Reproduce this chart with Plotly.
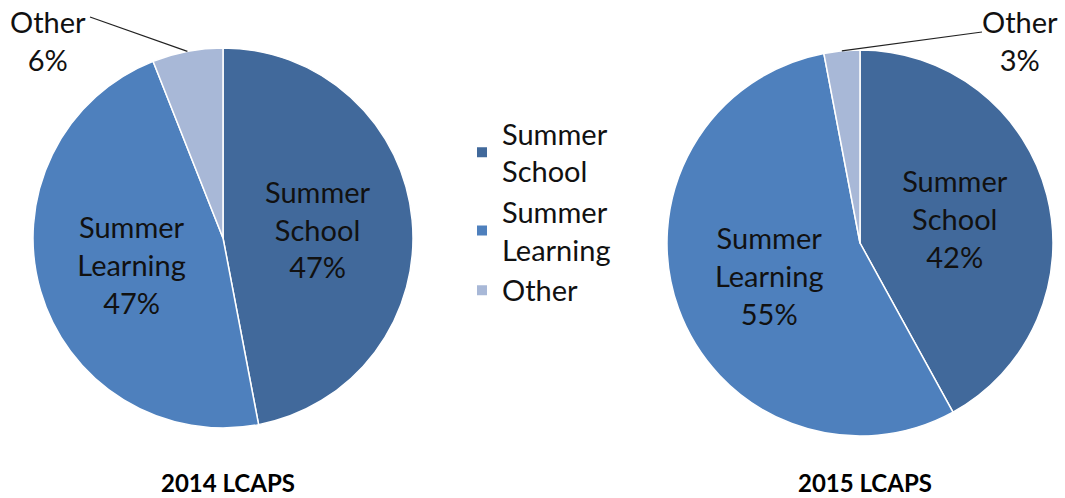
import math
import plotly.graph_objects as go

W, H = 1065, 498

categories = ["Summer School", "Summer Learning", "Other"]
legend_labels = ["Summer<br>School", "Summer<br>Learning", "Other"]
values_2014 = [47, 47, 6]
values_2015 = [42, 55, 3]
titles = ["2014 LCAPS", "2015 LCAPS"]
colors = ["#41699B", "#4E80BD", "#A8B8D7"]

FONT = "Lato, 'Open Sans', sans-serif"

# pie geometry in pixels (center x, center y, radius)
geoms = [(223, 238, 190), (860, 243, 193)]

fig = go.Figure()

def slice_texts(vals):
    out = []
    for lab, v in zip(categories, vals):
        if lab == "Other":
            out.append("")
        else:
            out.append(lab.replace(" ", "<br>") + "<br>" + f"{v}%")
    return out

for i, (vals, (cx, cy, r)) in enumerate(zip([values_2014, values_2015], geoms)):
    fig.add_trace(go.Pie(
        labels=legend_labels,
        values=vals,
        text=slice_texts(vals),
        textinfo="text",
        textposition="inside",
        insidetextorientation="horizontal",
        textfont=dict(family=FONT, size=29, color="#111111"),
        sort=False,
        direction="clockwise",
        rotation=0,
        marker=dict(colors=colors, line=dict(color="white", width=1.5)),
        domain=dict(x=[(cx - r) / W, (cx + r) / W],
                    y=[1 - (cy + r) / H, 1 - (cy - r) / H]),
        showlegend=(i == 0),
        hoverinfo="label+percent",
    ))

# outside "Other" labels with leader lines
label_pos = [((48, 40), (90, 17)), ((1020, 40), (982, 32))]
for vals, (cx, cy, r), ((tx, ty), (lx, ly)) in zip([values_2014, values_2015], geoms, label_pos):
    total = sum(vals)
    start = sum(vals[:2]) / total * 360
    mid = math.radians(start + vals[2] / total * 360 / 2)
    px = cx + r * math.sin(mid)
    py = cy - r * math.cos(mid)
    fig.add_shape(type="line", xref="paper", yref="paper",
                  x0=px / W, y0=1 - py / H, x1=lx / W, y1=1 - ly / H,
                  line=dict(color="#222222", width=1.2))
    fig.add_annotation(x=tx / W, y=1 - ty / H, xref="paper", yref="paper",
                       text=f"Other<br>{vals[2]}%", showarrow=False,
                       font=dict(family=FONT, size=29, color="#111111"),
                       xanchor="center", yanchor="middle", align="center")

for t, (cx, cy, r) in zip(titles, geoms):
    fig.add_annotation(x=(cx + 5) / W, y=0, xref="paper", yref="paper",
                       text=f"<b>{t}</b>", showarrow=False,
                       font=dict(family=FONT, size=24, color="#000000"),
                       xanchor="center", yanchor="bottom", borderpad=0)

fig.update_layout(
    width=W, height=H,
    margin=dict(l=0, r=0, t=0, b=0),
    paper_bgcolor="white",
    plot_bgcolor="white",
    legend=dict(x=462 / W, y=1 - 108 / H, xanchor="left", yanchor="top",
                font=dict(family=FONT, size=29, color="#111111"),
                itemsizing="constant", tracegroupgap=12,
                bgcolor="rgba(0,0,0,0)"),
    font=dict(family=FONT),
)

fig.write_html("out.html", config={"displayModeBar": False},
               post_script="document.body.style.margin='0';")
